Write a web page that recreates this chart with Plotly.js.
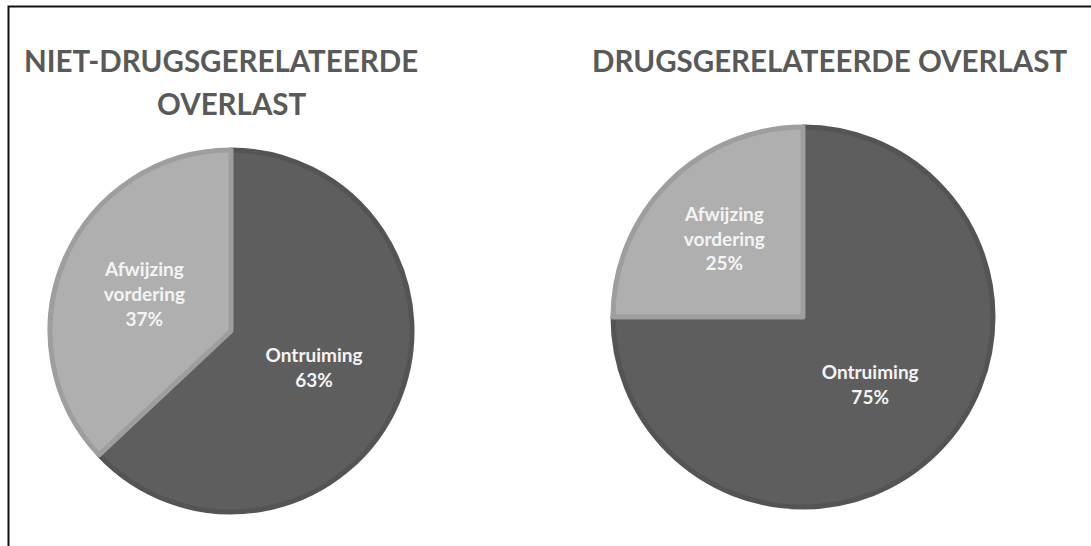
<!DOCTYPE html>
<html>
<head>
<meta charset="utf-8">
<script src="https://cdn.plot.ly/plotly-3.0.1.min.js"></script>
<style>
  html, body { margin: 0; padding: 0; background: #ffffff; }
  #chart { width: 1091px; height: 546px; }
</style>
</head>
<body>
<div id="chart"></div>
<script>
// ---- data ----
const categories = ["Ontruiming", "Afwijzing<br>vordering"];
const nietDrugsValues = [63, 37];
const drugsValues = [75, 25];
const titleLines1 = ["NIET-DRUGSGERELATEERDE", "OVERLAST"];
const titleLines2 = ["DRUGSGERELATEERDE OVERLAST"];

// ---- styles ----
const sliceColors = ["#5e5e5e", "#afafaf"];
const sliceBorders = ["#545454", "#9e9e9e"];
const labelFont = { family: "Lato, 'Open Sans', sans-serif", size: 19, color: "#f4f4f4", weight: "bold" };
const W = 1091, H = 546;

function pieTrace(values, dom) {
  return {
    type: "pie",
    labels: categories,
    values: values,
    sort: false,
    direction: "clockwise",
    rotation: 0,
    texttemplate: "<b>%{label}<br>%{percent:.0%}</b>",
    textposition: "inside",
    insidetextorientation: "horizontal",
    textfont: labelFont,
    hoverinfo: "label+percent",
    marker: { colors: sliceColors, line: { color: sliceBorders, width: 5 } },
    domain: dom,
    showlegend: false
  };
}

const data = [
  pieTrace(nietDrugsValues, { x: [50 / W, 412 / W], y: [1 - 512 / H, 1 - 150 / H] }),
  pieTrace(drugsValues,     { x: [613 / W, 993 / W], y: [1 - 507 / H, 1 - 127 / H] })
];

const titleFont = { family: "Lato, 'Open Sans', sans-serif", size: 29.5, color: "#595959", weight: "bold" };

function titleAnn(text, xPx, yPx) {
  return { text: "<b>" + text + "</b>", xref: "paper", yref: "paper", x: xPx / W, y: 1 - yPx / H,
    xanchor: "center", yanchor: "middle", showarrow: false, font: titleFont, align: "center" };
}

const layout = {
  width: W,
  height: H,
  margin: { l: 0, r: 0, t: 0, b: 0 },
  paper_bgcolor: "#ffffff",
  showlegend: false,
  annotations: [
    titleAnn(titleLines1[0], 221, 60),
    titleAnn(titleLines1[1], 232, 103),
    titleAnn(titleLines2[0], 829, 60)
  ],
  shapes: [
    { type: "path", xref: "paper", yref: "paper",
      path: "M " + (8.5 / W) + " 0 L " + (8.5 / W) + " " + (1 - 6.5 / H) + " L 1 " + (1 - 6.5 / H),
      line: { color: "#111111", width: 2 } }
  ]
};

Plotly.newPlot("chart", data, layout, { displayModeBar: false, staticPlot: true });
</script>
</body>
</html>
